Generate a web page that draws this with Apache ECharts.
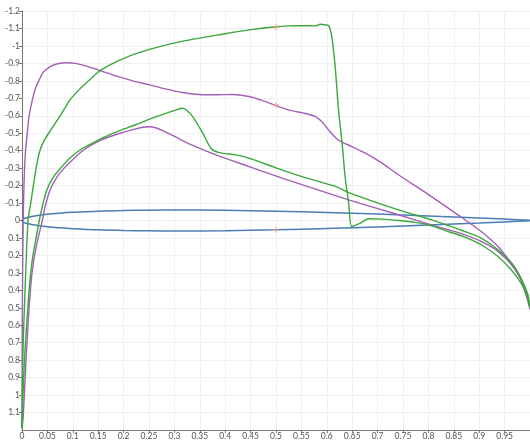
<!DOCTYPE html>
<html><head><meta charset="utf-8">
<script src="https://cdn.jsdelivr.net/npm/echarts@6/dist/echarts.min.js"></script>
<style>html,body{margin:0;padding:0;background:#fff}#c{width:530px;height:441px}</style>
</head><body><div id="c"></div>
<script>
// Airfoil (symmetric) half-thickness
const foilX = [0,0.0025,0.005,0.0125,0.025,0.05,0.075,0.1,0.15,0.2,0.25,0.3,0.4,0.5,0.6,0.7,0.8,0.9,0.95,1];
const foilHalf = [0,0.0087,0.0122,0.0189,0.0261,0.0356,0.042,0.0468,0.0535,0.0574,0.0594,0.06,0.058,0.0529,0.0456,0.0366,0.0262,0.0145,0.0081,0.0013];

// Purple, upper surface
const purpleUpper = [[0,1.19],[0.0005,0.6],[0.0015,0.2],[0.003,-0.1],[0.005,-0.3],[0.007,-0.4],[0.009,-0.46],[0.011,-0.52],[0.014,-0.6],[0.021,-0.7],[0.027,-0.76],[0.033,-0.8],[0.042,-0.85],[0.055,-0.88],[0.07,-0.898],[0.088,-0.904],[0.105,-0.9],[0.12,-0.89],[0.153,-0.86],[0.185,-0.828],[0.218,-0.8],[0.251,-0.777],[0.28,-0.755],[0.316,-0.733],[0.349,-0.722],[0.38,-0.72],[0.414,-0.722],[0.447,-0.71],[0.475,-0.685],[0.496,-0.662],[0.526,-0.632],[0.558,-0.613],[0.578,-0.595],[0.592,-0.56],[0.606,-0.51],[0.619,-0.47],[0.632,-0.446],[0.648,-0.425],[0.676,-0.386],[0.708,-0.33],[0.741,-0.262],[0.806,-0.137],[0.872,-0.004],[0.904,0.063],[0.937,0.149],[0.962,0.242],[0.982,0.34],[0.995,0.454],[1,0.51]];
// Purple, lower surface
const purpleLower = [[0,1.19],[0.0025,1.12],[0.009,0.74],[0.017,0.38],[0.023,0.23],[0.031,0.11],[0.04,0],[0.0456,-0.08],[0.0554,-0.176],[0.069,-0.25],[0.083,-0.3],[0.1,-0.35],[0.122,-0.405],[0.153,-0.458],[0.19,-0.497],[0.22,-0.522],[0.248,-0.537],[0.265,-0.53],[0.284,-0.505],[0.3035,-0.477],[0.316,-0.457],[0.33,-0.438],[0.382,-0.376],[0.447,-0.309],[0.512,-0.243],[0.578,-0.18],[0.643,-0.118],[0.741,-0.033],[0.806,0.025],[0.872,0.082],[0.904,0.12],[0.937,0.177],[0.969,0.272],[0.989,0.378],[1,0.5]];
// Green, upper surface (with shock)
const greenUpper = [[0,1.19],[0.002,0.74],[0.006,0.4],[0.0119,0],[0.0182,-0.118],[0.0241,-0.233],[0.03,-0.336],[0.0358,-0.405],[0.0437,-0.459],[0.0554,-0.513],[0.075,-0.599],[0.0946,-0.691],[0.114,-0.754],[0.1338,-0.808],[0.153,-0.857],[0.183,-0.906],[0.2317,-0.963],[0.31,-1.023],[0.4,-1.07],[0.447,-1.092],[0.496,-1.108],[0.545,-1.116],[0.578,-1.115],[0.587,-1.124],[0.598,-1.12],[0.604,-1.115],[0.61,-1.05],[0.617,-0.863],[0.623,-0.634],[0.63,-0.445],[0.636,-0.252],[0.643,-0.1],[0.649,0.034],[0.666,0.015],[0.682,-0.01],[0.708,-0.008],[0.741,0],[0.774,0.011],[0.806,0.03],[0.839,0.063],[0.872,0.095],[0.904,0.139],[0.937,0.206],[0.963,0.282],[0.982,0.358],[0.995,0.435],[1,0.5]];
// Green, lower surface
const greenLower = [[0,1.19],[0.002,1.0],[0.006,0.74],[0.014,0.4],[0.02,0.23],[0.027,0.11],[0.034,0],[0.04,-0.08],[0.049,-0.176],[0.062,-0.25],[0.076,-0.3],[0.095,-0.36],[0.115,-0.405],[0.13,-0.43],[0.16,-0.475],[0.1925,-0.515],[0.225,-0.55],[0.255,-0.585],[0.285,-0.615],[0.305,-0.635],[0.316,-0.643],[0.323,-0.634],[0.336,-0.595],[0.356,-0.5],[0.372,-0.414],[0.388,-0.389],[0.421,-0.376],[0.447,-0.357],[0.499,-0.303],[0.545,-0.257],[0.617,-0.195],[0.643,-0.16],[0.741,-0.061],[0.806,-0.004],[0.872,0.063],[0.904,0.101],[0.937,0.168],[0.969,0.263],[0.995,0.416],[1,0.5]];
// Small probe markers at x = 0.5
const markers = [[0.5,-1.108],[0.5,-0.662],[0.5,0.053]];

const foil = [];
for (let i = foilX.length - 1; i >= 0; i--) foil.push([foilX[i], -foilHalf[i]]);
for (let i = 1; i < foilX.length; i++) foil.push([foilX[i], foilHalf[i]]);

const chart = echarts.init(document.getElementById('c'), null, {renderer:'canvas'});
const lineS = (data, color) => ({type:'line', data, showSymbol:false, smooth:0.25,
  lineStyle:{color, width:1.4}, itemStyle:{color}, z:3});
chart.setOption({
  animation:false,
  grid:{left:22, right:-2, top:11, bottom:10, containLabel:false},
  xAxis:{type:'value', min:0, max:1, interval:0.05,
    axisLine:{onZero:false, lineStyle:{color:'#777'}}, axisTick:{length:3, lineStyle:{color:'#777'}},
    axisLabel:{fontSize:8.5, color:'#555', margin:2, showMaxLabel:false, fontFamily:'Lato'},
    splitLine:{lineStyle:{color:'#f0f0f0'}}},
  yAxis:{type:'value', inverse:true, min:-1.2, max:1.2, interval:0.1,
    axisLine:{show:true, onZero:false, lineStyle:{color:'#777'}}, axisTick:{show:true, length:3, lineStyle:{color:'#777'}},
    axisLabel:{fontSize:8.5, color:'#555', margin:2, showMaxLabel:false, fontFamily:'Lato'},
    splitLine:{lineStyle:{color:'#f0f0f0'}}},
  series:[
    {type:'line', data:foil, showSymbol:false, smooth:0.4, lineStyle:{color:'#4a7db5', width:1.5}, z:2},
    lineS(purpleUpper,'#a45fb8'),
    lineS(purpleLower,'#a45fb8'),
    lineS(greenUpper,'#3aa83a'),
    lineS(greenLower,'#3aa83a'),
    {type:'scatter', data:markers, symbol:'path://M4,0H6V4H10V6H6V10H4V6H0V4H4Z', symbolSize:6,
      itemStyle:{color:'#f0a080'}, z:5}
  ]
});
</script></body></html>
